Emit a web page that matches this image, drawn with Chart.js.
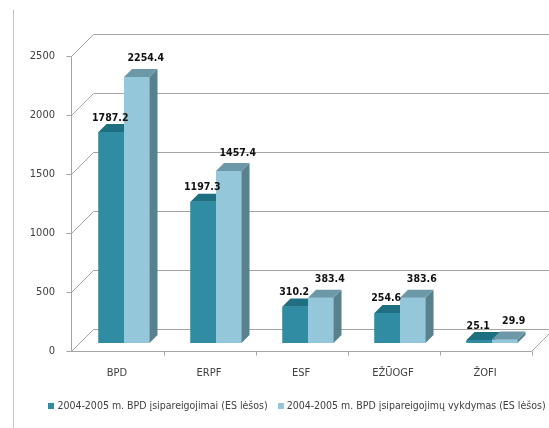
<!DOCTYPE html>
<html>
<head>
<meta charset="utf-8">
<script src="https://cdn.jsdelivr.net/npm/chart.js@4.4.1/dist/chart.umd.min.js"></script>
<style>
  body { margin: 0; background: #fff; }
  canvas { display: block; }
</style>
</head>
<body>
<canvas id="myChart" width="549" height="428"></canvas>
<script>
// values
const categories = ['BPD', 'ERPF', 'ESF', 'EŽŪOGF', 'ŽOFI'];
const commitments = [1787.2, 1197.3, 310.2, 254.6, 25.1];
const execution = [2254.4, 1457.4, 383.4, 383.6, 29.9];
const seriesNames = [
    '2004-2005 m. BPD įsipareigojimai (ES lėšos)',
    '2004-2005 m. BPD įsipareigojimų vykdymas (ES lėšos)'
];
const yTicks = [0, 500, 1000, 1500, 2000, 2500];

// look of the fake 3d
const FRONT = { dx: -7, dy: 8 };     // front plane (axis, floor edge) vs bar plane
const WALL = { dx: 22, dy: -22 };    // back wall vs front plane
const DEPTH = { dx: 8, dy: 8 };      // bar depth
const gridColor = '#a4a4a4';
const faceColors = [
    { front: '#2f8ca2', top: '#1f6f83', side: '#1d5e6e' },
    { front: '#94c7da', top: '#6c98a8', side: '#58808d' }
];
const labelShift = [[-1, -9], [9, -13]];
const fontFamily = "'Liberation Sans Narrow', 'DejaVu Sans Condensed', 'Liberation Sans', sans-serif";
const legendCenter = { x: 297, y: 406 };

Chart.defaults.font.family = fontFamily;
Chart.defaults.font.size = 11;
Chart.defaults.color = '#404040';

function poly(ctx, pts, color) {
    ctx.beginPath();
    ctx.moveTo(pts[0][0], pts[0][1]);
    for (let i = 1; i < pts.length; i++) ctx.lineTo(pts[i][0], pts[i][1]);
    ctx.closePath();
    ctx.fillStyle = color;
    ctx.fill();
}

const fake3d = {
    id: 'fake3d',
    beforeDraw(chart) {
        const ctx = chart.ctx;
        ctx.save();
        ctx.fillStyle = '#fff';
        ctx.fillRect(0, 0, chart.width, chart.height);
        // left border of the picture
        ctx.strokeStyle = '#c4c4c4';
        ctx.lineWidth = 1;
        ctx.beginPath();
        ctx.moveTo(13.5, 10);
        ctx.lineTo(13.5, chart.height);
        ctx.stroke();
        ctx.restore();
    },
    beforeDatasetsDraw(chart) {
        const ctx = chart.ctx;
        const y = chart.scales.y;
        const area = chart.chartArea;
        const fl = area.left + FRONT.dx + 0.5;
        const fr = area.right + FRONT.dx + 0.5;
        ctx.save();
        ctx.strokeStyle = gridColor;
        ctx.lineWidth = 1;
        ctx.beginPath();
        yTicks.forEach(v => {
            const py = Math.round(y.getPixelForValue(v) + FRONT.dy) + 0.5;
            // tick mark, diagonal and back wall line
            ctx.moveTo(fl - 5, py);
            ctx.lineTo(fl, py);
            ctx.lineTo(fl + WALL.dx, py + WALL.dy);
            ctx.lineTo(chart.width, py + WALL.dy);
        });
        const top = Math.round(y.getPixelForValue(yTicks[yTicks.length - 1]) + FRONT.dy) + 0.5;
        const y0 = Math.round(y.getPixelForValue(0) + FRONT.dy) + 0.5;
        // front axis
        ctx.moveTo(fl, top);
        ctx.lineTo(fl, y0);
        // floor front edge and right edge
        ctx.moveTo(fl, y0);
        ctx.lineTo(fr, y0);
        ctx.lineTo(fr + WALL.dx, y0 + WALL.dy);
        // category ticks on the floor edge
        const step = (area.right - area.left) / categories.length;
        for (let i = 1; i <= categories.length; i++) {
            const px = Math.round(fl + i * step) + 0.5;
            ctx.moveTo(px, y0);
            ctx.lineTo(px, y0 + 4);
        }
        ctx.stroke();
        ctx.restore();
    },
    afterDatasetsDraw(chart) {
        const ctx = chart.ctx;
        const metas = chart.data.datasets.map((ds, di) => chart.getDatasetMeta(di));
        ctx.save();
        // redraw each bar as a box, left series first so the right one hides its back
        categories.forEach((cat, i) => {
            metas.forEach((meta, di) => {
                const c = faceColors[di];
                const p = meta.data[i].getProps(['x', 'y', 'base', 'width'], true);
                const l = p.x - p.width / 2, r = p.x + p.width / 2;
                poly(ctx, [[l, p.y], [r, p.y], [r, p.base], [l, p.base]], c.front);
                poly(ctx, [[r, p.y], [r + DEPTH.dx, p.y - DEPTH.dy], [r + DEPTH.dx, p.base - DEPTH.dy], [r, p.base]], c.side);
                poly(ctx, [[l, p.y], [r, p.y], [r + DEPTH.dx, p.y - DEPTH.dy], [l + DEPTH.dx, p.y - DEPTH.dy]], c.top);
            });
        });
        // value labels
        ctx.font = "bold 10.5px " + fontFamily;
        ctx.fillStyle = '#111';
        ctx.textAlign = 'center';
        ctx.textBaseline = 'bottom';
        chart.data.datasets.forEach((ds, di) => {
            metas[di].data.forEach((el, i) => {
                const p = el.getProps(['x', 'y'], true);
                ctx.fillText(ds.data[i].toFixed(1), p.x + labelShift[di][0], p.y + labelShift[di][1]);
            });
        });
        ctx.restore();
    },
    afterDraw(chart) {
        // legend: small squares, one row, placed like the original
        const ctx = chart.ctx;
        ctx.save();
        ctx.font = "10.5px " + fontFamily;
        ctx.textBaseline = 'middle';
        ctx.textAlign = 'left';
        const box = 6, gap = 3, between = 10;
        const widths = chart.data.datasets.map(ds => box + gap + ctx.measureText(ds.label).width);
        const total = widths.reduce((a, b) => a + b, 0) + between * (widths.length - 1);
        let x = legendCenter.x - total / 2;
        chart.data.datasets.forEach((ds, di) => {
            ctx.fillStyle = ds.backgroundColor;
            ctx.fillRect(Math.round(x), legendCenter.y - 3, box, box);
            ctx.fillStyle = '#404040';
            ctx.fillText(ds.label, x + box + gap, legendCenter.y);
            x += widths[di] + between;
        });
        ctx.restore();
    }
};

const ctx = document.getElementById('myChart').getContext('2d');
const myChart = new Chart(ctx, {
    type: 'bar',
    data: {
        labels: categories,
        datasets: [{
            label: seriesNames[0],
            data: commitments,
            backgroundColor: faceColors[0].front
        }, {
            label: seriesNames[1],
            data: execution,
            backgroundColor: faceColors[1].front
        }]
    },
    options: {
        responsive: false,
        animation: false,
        devicePixelRatio: 1,
        layout: { padding: { top: 48, right: 11, bottom: 35, left: 0 } },
        datasets: {
            bar: { categoryPercentage: 0.555, barPercentage: 1, borderWidth: 0 }
        },
        scales: {
            x: {
                grid: { display: false, drawTicks: false },
                border: { display: false },
                ticks: { padding: 24, labelOffset: FRONT.dx },
                afterFit(s) { s.height = 50; }
            },
            y: {
                min: 0,
                max: 2500,
                grid: { display: false, drawTicks: false },
                border: { display: false },
                ticks: {
                    stepSize: 500,
                    padding: 23,
                    labelOffset: FRONT.dy,
                    callback: v => String(v)
                },
                afterFit(s) { s.width = 78; }
            }
        },
        plugins: {
            legend: { display: false },
            tooltip: { enabled: false }
        }
    },
    plugins: [fake3d]
});
</script>
</body>
</html>
